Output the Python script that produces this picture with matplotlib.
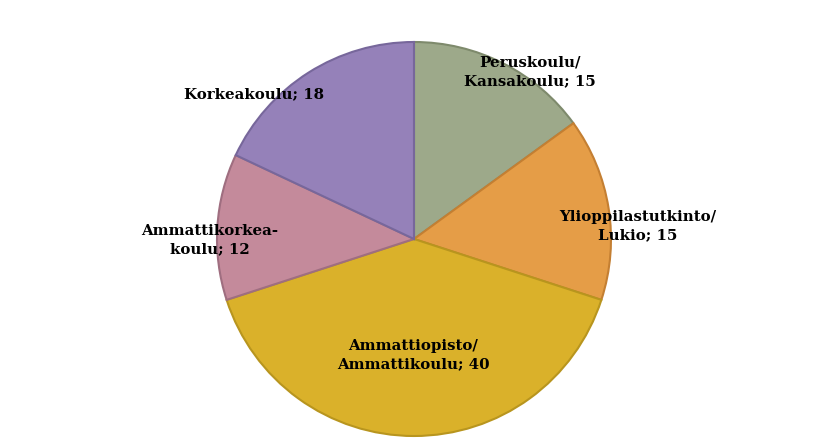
import matplotlib
matplotlib.use("Agg")
import matplotlib.pyplot as plt

categories = ["Peruskoulu/\nKansakoulu", "Ylioppilastutkinto/\nLukio", "Ammattiopisto/\nAmmattikoulu",
              "Ammattikorkea-\nkoulu", "Korkeakoulu"]
values = [15, 15, 40, 12, 18]
colors = ["#9DA98A", "#E59D47", "#DAB12A", "#C48A9B", "#9581B9"]
edges = ["#7E8A6C", "#C47F32", "#B8951E", "#9F6E80", "#77679B"]

# label centres in pixel coordinates (x, y from top)
label_pos = [(530, 72), (638, 226), (413, 355), (210, 240), (254, 94)]

W, H = 822, 445
fig = plt.figure(figsize=(W / 100, H / 100), dpi=100)
ax = fig.add_axes([0, 0, 1, 1])
cx, cy, r = 414, 239, 197
wedges, _ = ax.pie(values, colors=colors, startangle=90, counterclock=False,
                   center=(cx, H - cy), radius=r,
                   wedgeprops=dict(linewidth=1.5))
for w, ec in zip(wedges, edges):
    w.set_edgecolor(ec)
ax.set_xlim(0, W)
ax.set_ylim(0, H)
ax.set_aspect("equal")
ax.axis("off")

for (x, y), cat, v in zip(label_pos, categories, values):
    ax.text(x, H - y, f"{cat}; {v}", ha="center", va="center", fontsize=10.8,
            fontweight="bold", family="DejaVu Serif", linespacing=1.4)

fig.savefig("out.png", dpi=100)
